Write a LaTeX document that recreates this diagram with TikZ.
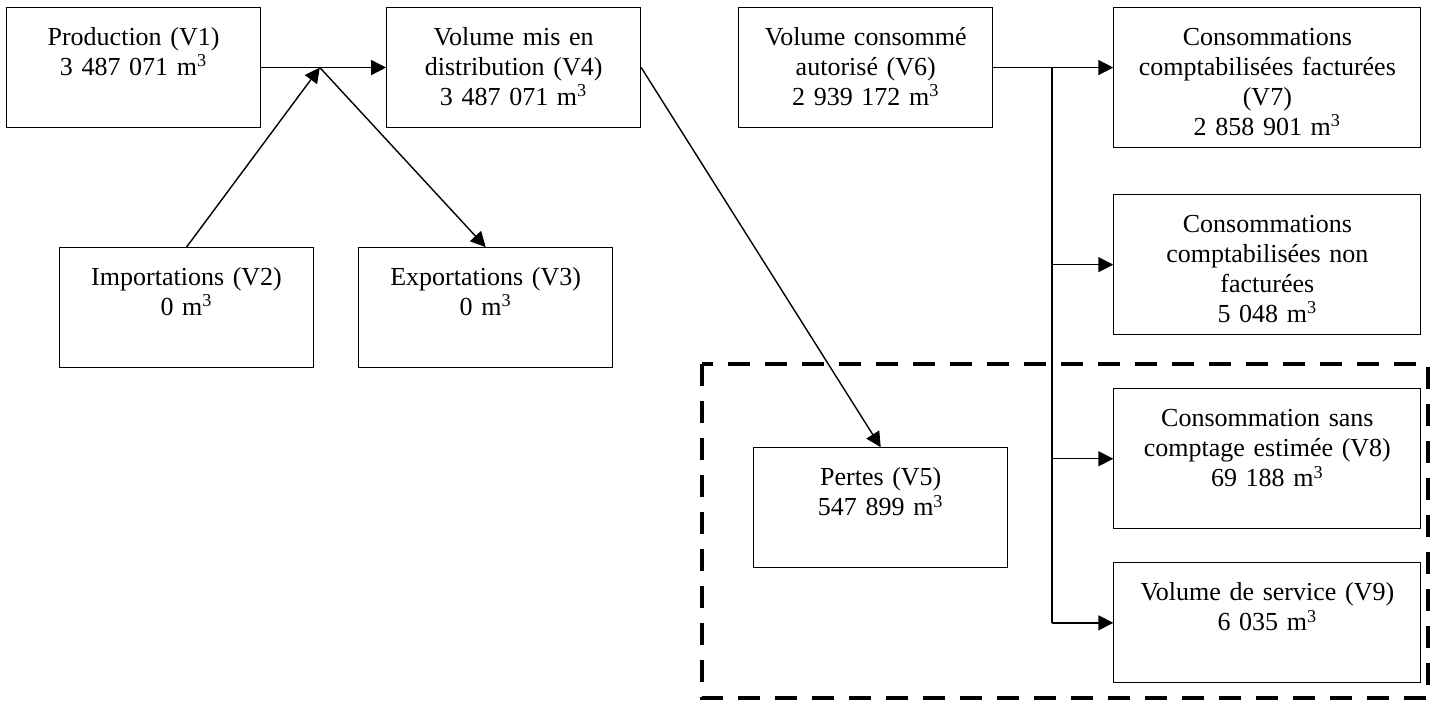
\documentclass[tikz,border=0pt]{standalone}
\usepackage{fontspec}
\setmainfont{Liberation Serif}
\usetikzlibrary{positioning,calc,arrows.meta}

\tikzset{
    box/.style={draw, line width=0.55pt, anchor=north west, align=center, inner sep=0pt,
        text width=127pt, text height=19pt, text depth=41pt},
    tall/.style={text depth=51pt},
    wide/.style={text width=153.5pt},
    flow/.style={line width=0.7pt},
    arr/.style={flow, -{Triangle[length=7.5pt,width=7.5pt]}},
    zone/.style={line width=2.25pt, dash pattern=on 11pt off 7.5pt},
}
\newcommand{\mc}{m\textsuperscript{3}}

\begin{document}
\begin{tikzpicture}[font=\fontsize{13}{15}\selectfont]
    \useasboundingbox (0,0) rectangle (719pt,-351pt);

    \node[box] (v1) at (3pt,-3.5pt) {Production (V1)\\3 487 071 \mc};
    \node[box, right=62.5pt of v1] (v4) {Volume mis en\\distribution (V4)\\3 487 071 \mc};
    \node[box, right=48.5pt of v4] (v6) {Volume consommé\\autorisé (V6)\\2 939 172 \mc};
    \node[box, wide, tall, below right=0pt and 60pt of v6.north east] (v7) {Consommations\\comptabilisées facturées\\(V7)\\2 858 901 \mc};
    \node[box, wide, tall, below=23pt of v7] (nf) {Consommations\\comptabilisées non\\facturées\\5 048 \mc};
    \node[box, wide, tall, below=26.5pt of nf] (v8) {Consommation sans\\comptage estimée (V8)\\69 188 \mc};
    \node[box, wide, below=16.5pt of v8] (v9) {Volume de service (V9)\\6 035 \mc};
    \node[box, below right=59.5pt and 26.5pt of v1.south west] (v2) {Importations (V2)\\0 \mc};
    \node[box, right=22pt of v2] (v3) {Exportations (V3)\\0 \mc};
    \node[box, below left=29.5pt and 52.5pt of v8.north west] (v5) {Pertes (V5)\\547 899 \mc};

    \coordinate (j1) at ($(v1.east)!0.47!(v4.west)$);
    \coordinate (j2) at ($(v6.east)!0.49!(v6.east -| v7.west)$);

    % production, imports, exports
    \draw[arr] (v1.east) -- (v4.west);
    \draw[arr] (v2.north) -- (j1);
    \draw[arr] (j1) -- (v3.north);
    \draw[arr] (v4.east) -- (v5.north);

    % authorised consumption split
    \draw[arr] (v6.east) -- (v6.east -| v7.west);
    \draw[flow] (j2) -- (j2 |- v9.west);
    \draw[arr] (j2 |- nf.west) -- (nf.west);
    \draw[arr] (j2 |- v8.west) -- (v8.west);
    \draw[arr] (j2 |- v9.west) -- (v9.west);

    \draw[zone] (351pt,-182pt) rectangle (714pt,-349pt);
\end{tikzpicture}
\end{document}
